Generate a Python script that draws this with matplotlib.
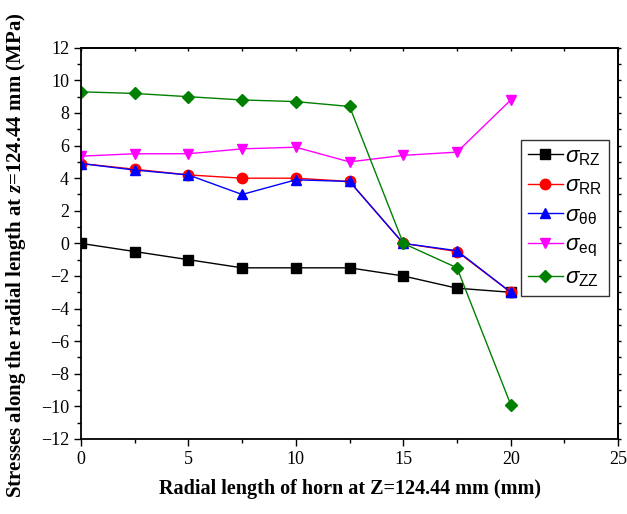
import matplotlib
matplotlib.use('Agg')
import matplotlib.pyplot as plt
from matplotlib.ticker import MultipleLocator

plt.rcParams['font.family'] = 'Liberation Serif'
plt.rcParams['mathtext.fontset'] = 'custom'
plt.rcParams['mathtext.rm'] = 'Liberation Sans'
plt.rcParams['mathtext.it'] = 'Liberation Sans:italic'
plt.rcParams['mathtext.bf'] = 'Liberation Serif:italic:bold'

# radial positions (mm)
radius = [0, 2.5, 5, 7.5, 10, 12.5, 15, 17.5, 20]

# stresses (MPa)
sigma_rz = [0, -0.5, -1.0, -1.5, -1.5, -1.5, -2.0, -2.75, -3.0]
sigma_rr = [4.9, 4.55, 4.2, 4.0, 4.0, 3.8, 0.0, -0.5, -3.0]
sigma_tt = [4.9, 4.5, 4.2, 3.0, 3.9, 3.8, 0.0, -0.45, -3.0]
sigma_eq = [5.35, 5.5, 5.5, 5.8, 5.9, 5.0, 5.4, 5.6, 8.8]
sigma_zz = [9.3, 9.2, 9.0, 8.8, 8.7, 8.4, 0.0, -1.5, -9.9]

labels = [r'$\sigma_{\mathrm{RZ}}$', r'$\sigma_{\mathrm{RR}}$',
          r'$\sigma_{\mathrm{\theta\theta}}$', r'$\sigma_{\mathrm{eq}}$',
          r'$\sigma_{\mathrm{ZZ}}$']

series = [
    (sigma_rz, 'black', 's'),
    (sigma_rr, 'red', 'o'),
    (sigma_tt, 'blue', '^'),
    (sigma_eq, 'magenta', 'v'),
    (sigma_zz, 'green', 'D'),
]

fig = plt.figure(figsize=(6.27, 5.14), dpi=100)
ax = fig.add_axes([0.129, 0.146, 0.857, 0.761])

for (values, color, marker), label in zip(series, labels):
    ms = 6.5 if marker == 'D' else 7.5
    ax.plot(radius, values, color=color, marker=marker, markersize=ms,
            linewidth=1.0, label=label)

ax.set_xlim(0, 25)
ax.set_ylim(-12, 12)
ax.xaxis.set_major_locator(MultipleLocator(5))
ax.xaxis.set_minor_locator(MultipleLocator(2.5))
ax.yaxis.set_major_locator(MultipleLocator(2))
ax.yaxis.set_minor_locator(MultipleLocator(1))

ax.tick_params(which='major', direction='out', length=5, width=1,
               labelsize=13)
ax.tick_params(which='minor', direction='out', length=3, width=1)

# small ticks on the mirrored axes
top = ax.secondary_xaxis('top')
top.xaxis.set_major_locator(MultipleLocator(5))
top.xaxis.set_minor_locator(MultipleLocator(2.5))
top.tick_params(which='both', direction='in', length=2, width=1,
                labeltop=False)
right = ax.secondary_yaxis('right')
right.yaxis.set_major_locator(MultipleLocator(2))
right.yaxis.set_minor_locator(MultipleLocator(1))
right.tick_params(which='both', direction='out', length=2, width=1,
                  labelright=False)
for a in (ax, top, right):
    for spine in a.spines.values():
        spine.set_linewidth(1.3)

ax.set_xlabel('Radial length of horn at Z=124.44 mm (mm)',
              fontsize=14.5, fontweight='bold', labelpad=8)
ax.set_ylabel(r'Stresses along the radial length at $\mathbf{z}$=124.44 mm (MPa)',
              fontsize=15, fontweight='bold')
ax.yaxis.set_label_coords(-0.098, 0.47)

leg = ax.legend(loc='upper left', bbox_to_anchor=(0.819, 0.765),
                fontsize=16, frameon=True, fancybox=False, edgecolor='black',
                handlelength=1.6, handletextpad=0.1, borderpad=0.3,
                labelspacing=0.38, borderaxespad=0)
leg.get_frame().set_linewidth(1.0)

fig.savefig('out.png', dpi=100)
